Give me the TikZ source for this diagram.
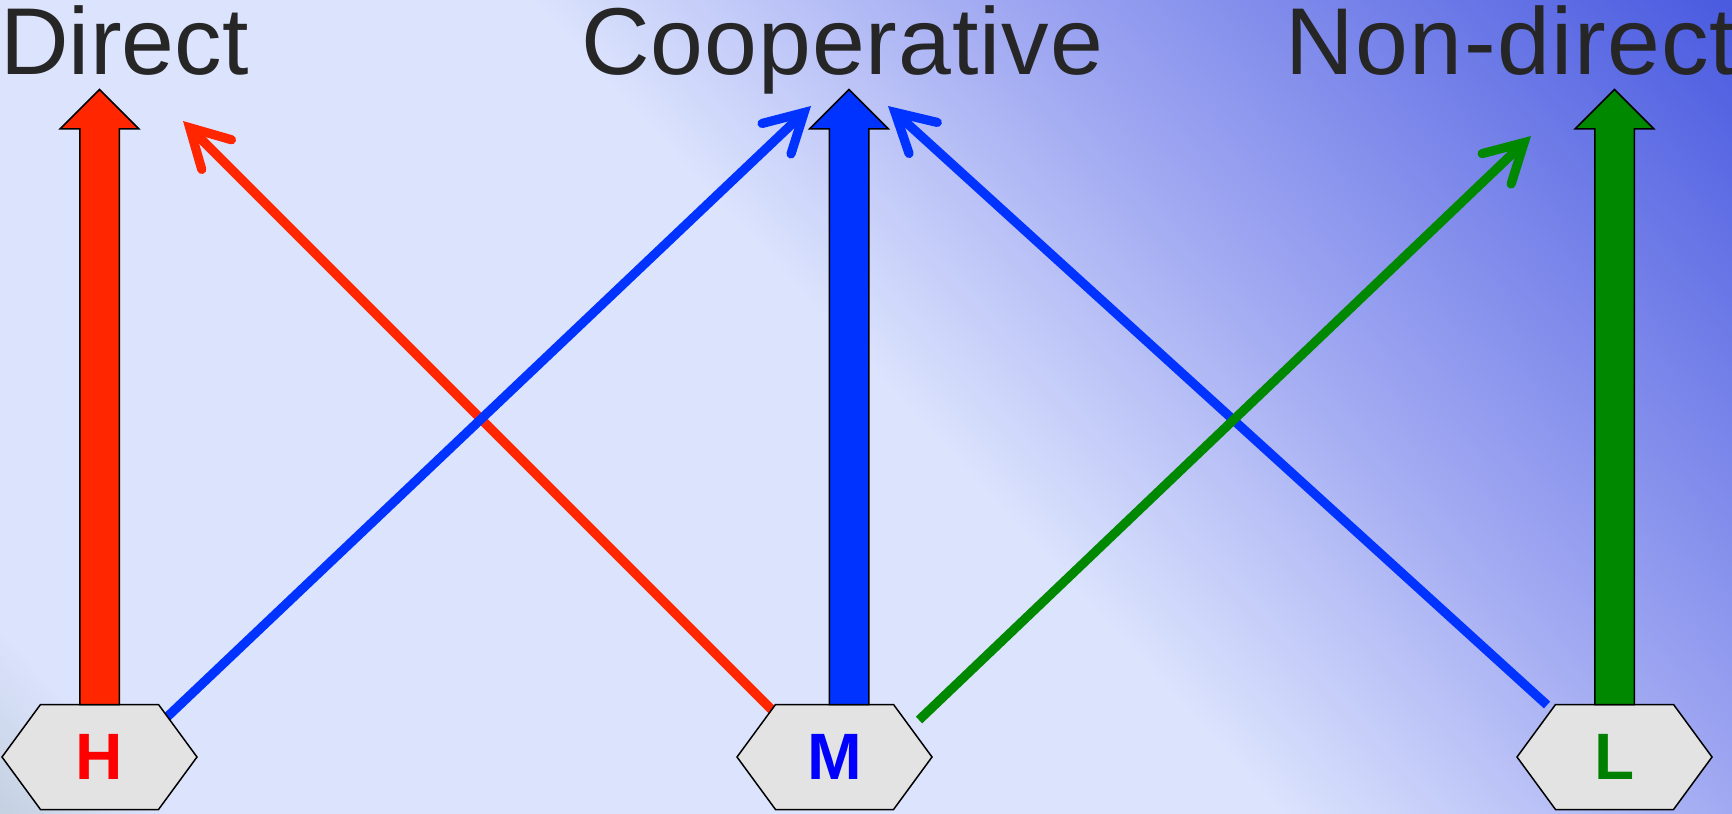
\documentclass[tikz,border=0pt]{standalone}
\usepackage{fontspec}
\setmainfont{Liberation Sans}
\usetikzlibrary{arrows.meta, calc, shapes.symbols, shapes.arrows, backgrounds}

\definecolor{bglight}{HTML}{DBE3FD}
\definecolor{bgcorner}{HTML}{C6D2E2}
\definecolor{bgmid}{HTML}{A2AAF2}
\definecolor{bgdark}{HTML}{4A5BE0}
\definecolor{hexfill}{HTML}{E3E3E3}
\definecolor{titlegray}{HTML}{262626}
\definecolor{cred}{HTML}{FF2600}
\definecolor{cblue}{HTML}{0033FF}
\definecolor{cgreen}{HTML}{008800}

\pgfdeclarehorizontalshading{bgshade}{100bp}{color(0bp)=(bgcorner); color(24.7bp)=(bgcorner); color(28bp)=(bglight); color(50.8bp)=(bglight); color(60bp)=(bgmid); color(75.3bp)=(bgdark); color(100bp)=(bgdark)}

\begin{document}
\begin{tikzpicture}[x=0.5pt, y=-0.5pt,
  hexbox/.style={shape=signal, signal to=east and west, signal pointer angle=107.5, draw, line width=0.75pt, fill=hexfill, minimum width=97.5pt, minimum height=52.5pt, inner sep=0pt, outer sep=0pt, font=\fontsize{32.8}{36}\selectfont\bfseries},
  bigarrow/.style={shape=single arrow, single arrow head extend=9.75pt, single arrow tip angle=90, minimum height=307.5pt, minimum width=38.5pt, inner xsep=0pt, inner ysep=9.5pt, outer sep=0pt, draw, line width=0.75pt, rotate=90, anchor=tail},
  thinarrow/.style={line width=4.6pt, -{Straight Barb[length=19pt, width=21pt, line cap=round, line join=miter]}},
  title/.style={anchor=base west, inner sep=0pt, text=titlegray, font=\fontsize{47.5}{57}\selectfont}]
\useasboundingbox (0,0) rectangle (1732,813);
\begin{pgfonlayer}{background}
\clip (0,0) rectangle (1732,813);
\shade[shading=bgshade, shading angle=42.7] (-34,-493.5) rectangle (1766,1306.5);
\end{pgfonlayer}

\node[title] (direct) at (0,75) {Direct};
\node[title] (coop) at (581,75) {\addfontfeature{LetterSpace=1}Cooperative};
\node[title] (nondirect) at (1285,75) {{\addfontfeature{LetterSpace=1.6}Non-direc}t};

\node[hexbox, text=red] (high) at (99.5,757) {H};
\node[hexbox, text=blue] (mid) at (834.5,757) {M};
\node[hexbox, text=green!50!black] (low) at (1614.5,757) {L};

\node[bigarrow, fill=cred] (highup) at (high.north) {};
\node[bigarrow, fill=cblue] (midup) at ($(mid.north)+(14.5,0)$) {};
\node[bigarrow, fill=cgreen] (lowup) at (low.north) {};

\coordinate (directtip) at (183,121);
\coordinate (cooptipL) at (811,106);
\coordinate (cooptipR) at (888,106);
\coordinate (nondirtip) at (1531,136);

\begin{pgfonlayer}{background}
\draw[thinarrow, cred] ($(mid)+(-61.5,-46)$) -- (directtip);
\draw[thinarrow, cblue] ($(high)+(66.5,-39)$) -- (cooptipL);
\draw[thinarrow, cblue] ($(low)+(-67.5,-52)$) -- (cooptipR);
\draw[thinarrow, cgreen] ($(mid)+(84.5,-37)$) -- (nondirtip);
\end{pgfonlayer}
\end{tikzpicture}
\end{document}
